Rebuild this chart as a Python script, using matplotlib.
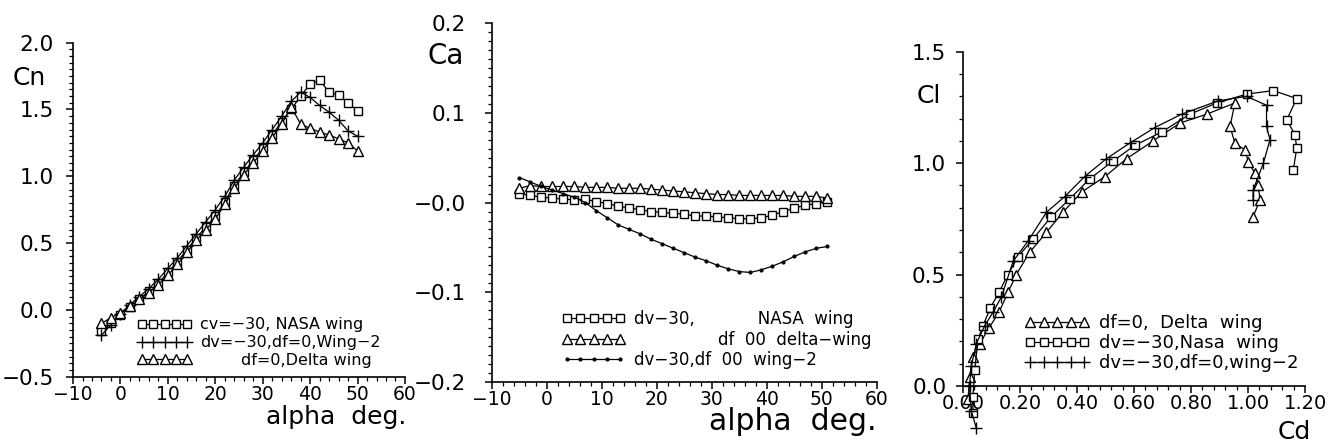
import matplotlib
matplotlib.use("Agg")
import matplotlib.pyplot as plt
from matplotlib.ticker import MultipleLocator

# ---- data ----
# panel 1 : Cn vs alpha
alpha1 = [-4, -2, 0, 2, 4, 6, 8, 10, 12, 14, 16, 18, 20, 22, 24, 26, 28,
          30, 32, 34, 36, 38, 40, 42, 44, 46, 48, 50]
cn_nasa = [-0.16, -0.10, -0.04, 0.02, 0.08, 0.14, 0.20, 0.28, 0.36, 0.45,
           0.54, 0.62, 0.70, 0.81, 0.93, 1.03, 1.12, 1.21, 1.31, 1.41,
           1.50, 1.60, 1.69, 1.72, 1.63, 1.61, 1.55, 1.49]
cn_wing2 = [-0.19, -0.11, -0.03, 0.04, 0.10, 0.16, 0.23, 0.31, 0.39, 0.48,
            0.57, 0.66, 0.75, 0.85, 0.97, 1.07, 1.16, 1.25, 1.35, 1.45,
            1.56, 1.63, 1.59, 1.53, 1.48, 1.42, 1.34, 1.30]
cn_delta = [-0.10, -0.06, -0.02, 0.03, 0.08, 0.13, 0.19, 0.26, 0.34, 0.43,
            0.52, 0.60, 0.68, 0.79, 0.91, 1.01, 1.10, 1.19, 1.29, 1.39,
            1.52, 1.39, 1.36, 1.33, 1.31, 1.28, 1.25, 1.19]

# panel 2 : Ca vs alpha
alpha2 = [-5, -3, -1, 1, 3, 5, 7, 9, 11, 13, 15, 17, 19, 21, 23, 25, 27,
          29, 31, 33, 35, 37, 39, 41, 43, 45, 47, 49, 51]
ca_nasa = [0.010, 0.008, 0.006, 0.005, 0.004, 0.003, 0.004, 0.001, -0.001,
           -0.004, -0.006, -0.008, -0.010, -0.011, -0.012, -0.013, -0.015,
           -0.015, -0.016, -0.017, -0.018, -0.018, -0.017, -0.014, -0.010,
           -0.006, -0.003, -0.001, 0.001]
ca_delta = [0.016, 0.019, 0.018, 0.018, 0.018, 0.018, 0.017, 0.017, 0.017,
            0.016, 0.016, 0.016, 0.015, 0.014, 0.013, 0.012, 0.011, 0.010,
            0.009, 0.009, 0.008, 0.008, 0.008, 0.008, 0.008, 0.007, 0.007,
            0.007, 0.005]
ca_wing2 = [0.028, 0.023, 0.018, 0.014, 0.010, 0.006, 0.000, -0.009, -0.017,
            -0.025, -0.030, -0.035, -0.041, -0.046, -0.051, -0.056, -0.061,
            -0.065, -0.070, -0.074, -0.077, -0.078, -0.075, -0.071, -0.066,
            -0.060, -0.055, -0.051, -0.049]

# panel 3 : Cl vs Cd
cd_delta = [0.018, 0.023, 0.035, 0.059, 0.091, 0.126, 0.158, 0.187, 0.234,
            0.293, 0.351, 0.416, 0.498, 0.574, 0.667, 0.761, 0.855, 0.954,
            0.937, 0.954, 0.989, 1.001, 1.024, 1.036, 1.042, 1.018]
cl_delta = [-0.06, 0.04, 0.13, 0.19, 0.26, 0.33, 0.42, 0.50, 0.60, 0.69,
            0.78, 0.87, 0.94, 1.02, 1.10, 1.18, 1.22, 1.27, 1.165, 1.09,
            1.06, 1.007, 0.955, 0.903, 0.835, 0.76]
cd_nasa = [0.035, 0.035, 0.041, 0.053, 0.070, 0.096, 0.126, 0.158, 0.193,
           0.246, 0.310, 0.375, 0.445, 0.527, 0.603, 0.697, 0.796, 0.890,
           0.995, 1.089, 1.171, 1.136, 1.165, 1.171, 1.159]
cl_nasa = [-0.12, -0.05, 0.07, 0.21, 0.27, 0.35, 0.42, 0.50, 0.58, 0.66,
           0.76, 0.84, 0.93, 1.01, 1.08, 1.14, 1.22, 1.27, 1.31, 1.326,
           1.29, 1.195, 1.127, 1.067, 0.97]
cd_wing2 = [0.047, 0.029, 0.023, 0.029, 0.047, 0.076, 0.105, 0.135, 0.176,
            0.228, 0.293, 0.357, 0.427, 0.503, 0.585, 0.673, 0.767, 0.896,
            0.995, 1.065, 1.065, 1.077, 1.054, 1.018, 1.018]
cl_wing2 = [-0.19, -0.11, 0.00, 0.09, 0.19, 0.27, 0.33, 0.40, 0.56, 0.65,
            0.78, 0.85, 0.94, 1.02, 1.09, 1.16, 1.22, 1.28, 1.30, 1.26,
            1.165, 1.105, 1.00, 0.88, 0.835]

lab1 = ["cv=\u221230, NASA wing", "dv=\u221230,df=0,Wing\u22122",
        "        df=0,Delta wing"]
lab2 = ["dv\u221230,            NASA  wing",
        "                df  00  delta\u2212wing",
        "dv\u221230,df  00  wing\u22122"]
lab3 = ["df=0,  Delta  wing", "dv=\u221230,Nasa  wing",
        "dv=\u221230,df=0,wing\u22122"]

# ---- figure ----
plt.rcParams['font.family'] = ['DejaVu Sans']
fig = plt.figure(figsize=(13.33, 4.45), dpi=100)

ax1 = fig.add_axes([0.0548, 0.1535, 0.249, 0.7506])
ax2 = fig.add_axes([0.369, 0.1422, 0.2888, 0.805])
ax3 = fig.add_axes([0.7224, 0.1326, 0.2566, 0.751])

sq = dict(marker='s', mfc='white', mec='black', ms=6, mew=1.0)
tr = dict(marker='^', mfc='white', mec='black', ms=7, mew=1.0)
cr = dict(marker='+', mec='black', ms=9, mew=1.0)
dt = dict(marker='.', mec='black', ms=4)


def style(ax, ypad):
    for s in ['top', 'right']:
        ax.spines[s].set_visible(False)
    ax.spines['left'].set_linewidth(1.2)
    ax.spines['bottom'].set_linewidth(1.2)
    ax.tick_params(which='major', direction='out', length=5, width=1.1)
    ax.tick_params(which='minor', direction='out', length=3, width=0.9)
    ax.tick_params(axis='y', pad=ypad, labelsize=15.5)
    ax.tick_params(axis='x', pad=1, labelsize=13.5)


leg = dict(loc='lower left', frameon=False, numpoints=5, borderpad=0,
           borderaxespad=0, handletextpad=0.5)

# panel 1
ax1.plot(alpha1, cn_nasa, color='black', lw=0.9, label=lab1[0], **sq)
ax1.plot(alpha1, cn_wing2, color='black', lw=0.9, label=lab1[1], **cr)
ax1.plot(alpha1, cn_delta, color='black', lw=0.9, label=lab1[2], **tr)
ax1.set_xlim(-10, 60)
ax1.set_ylim(-0.5, 2.0)
ax1.set_xticks(range(-10, 61, 10))
ax1.set_yticks([-0.5, 0.0, 0.5, 1.0, 1.5, 2.0])
ax1.set_yticklabels(["\u22120.5", "0.0", "0.5", "1.0", "1.5", "2.0"])
ax1.xaxis.set_minor_locator(MultipleLocator(2))
ax1.yaxis.set_minor_locator(MultipleLocator(0.05))
style(ax1, 9)
ax1.legend(bbox_to_anchor=(0.193, 0.026), fontsize=11.5, handlelength=3.45,
           labelspacing=0.18, **leg)
fig.text(29 / 1333, 1 - 78 / 445, "Cn", fontsize=18, va='center',
         ha='center')
fig.text(336 / 1333, 1 - 405 / 445, "alpha  deg.", fontsize=18,
         va='top', ha='center')

# panel 2
ax2.plot(alpha2, ca_nasa, color='black', lw=0.9, label=lab2[0], **sq)
ax2.plot(alpha2, ca_delta, color='black', lw=0.9, label=lab2[1], **tr)
ax2.plot(alpha2, ca_wing2, color='black', lw=0.9, label=lab2[2], **dt)
ax2.set_xlim(-10, 60)
ax2.set_ylim(-0.2, 0.2)
ax2.set_xticks(range(-10, 61, 10))
ax2.set_yticks([-0.2, -0.1, 0.0, 0.1, 0.2])
ax2.set_yticklabels(["\u22120.2", "\u22120.1", "\u22120.0", "0.1", "0.2"])
ax2.xaxis.set_minor_locator(MultipleLocator(2))
ax2.yaxis.set_minor_locator(MultipleLocator(0.01))
style(ax2, 14)
ax2.legend(bbox_to_anchor=(0.182, 0.035), fontsize=12, handlelength=3.8,
           labelspacing=0.15, **leg)
fig.text(446 / 1333, 1 - 56 / 445, "Ca", fontsize=20, va='center',
         ha='center')
fig.text(793 / 1333, 1 - 407 / 445, "alpha  deg.", fontsize=21.5,
         va='top', ha='center')

# panel 3
ax3.plot(cd_delta, cl_delta, color='black', lw=0.9, label=lab3[0],
         clip_on=False, **tr)
ax3.plot(cd_nasa, cl_nasa, color='black', lw=0.9, label=lab3[1],
         clip_on=False, **sq)
ax3.plot(cd_wing2, cl_wing2, color='black', lw=0.9, label=lab3[2],
         clip_on=False, **cr)
ax3.set_xlim(0, 1.2)
ax3.set_ylim(0, 1.5)
ax3.set_xticks([0.0, 0.2, 0.4, 0.6, 0.8, 1.0, 1.2])
ax3.set_xticklabels(["0.00", "0.20", "0.40", "0.60", "0.80", "1.00", "1.20"])
ax3.set_yticks([0.0, 0.5, 1.0, 1.5])
ax3.set_yticklabels(["0.0", "0.5", "1.0", "1.5"])
ax3.xaxis.set_minor_locator(MultipleLocator(0.04))
ax3.yaxis.set_minor_locator(MultipleLocator(0.1))
style(ax3, 7)
ax3.tick_params(axis='x', labelsize=14)
ax3.legend(bbox_to_anchor=(0.181, 0.042), fontsize=13, handlelength=3.6,
           labelspacing=0.1, **leg)
fig.text(929 / 1333, 1 - 96 / 445, "Cl", fontsize=18, va='center',
         ha='center')
fig.text(1294 / 1333, 1 - 432 / 445, "Cd", fontsize=18, va='center',
         ha='center')

fig.savefig("out.png", dpi=100)
